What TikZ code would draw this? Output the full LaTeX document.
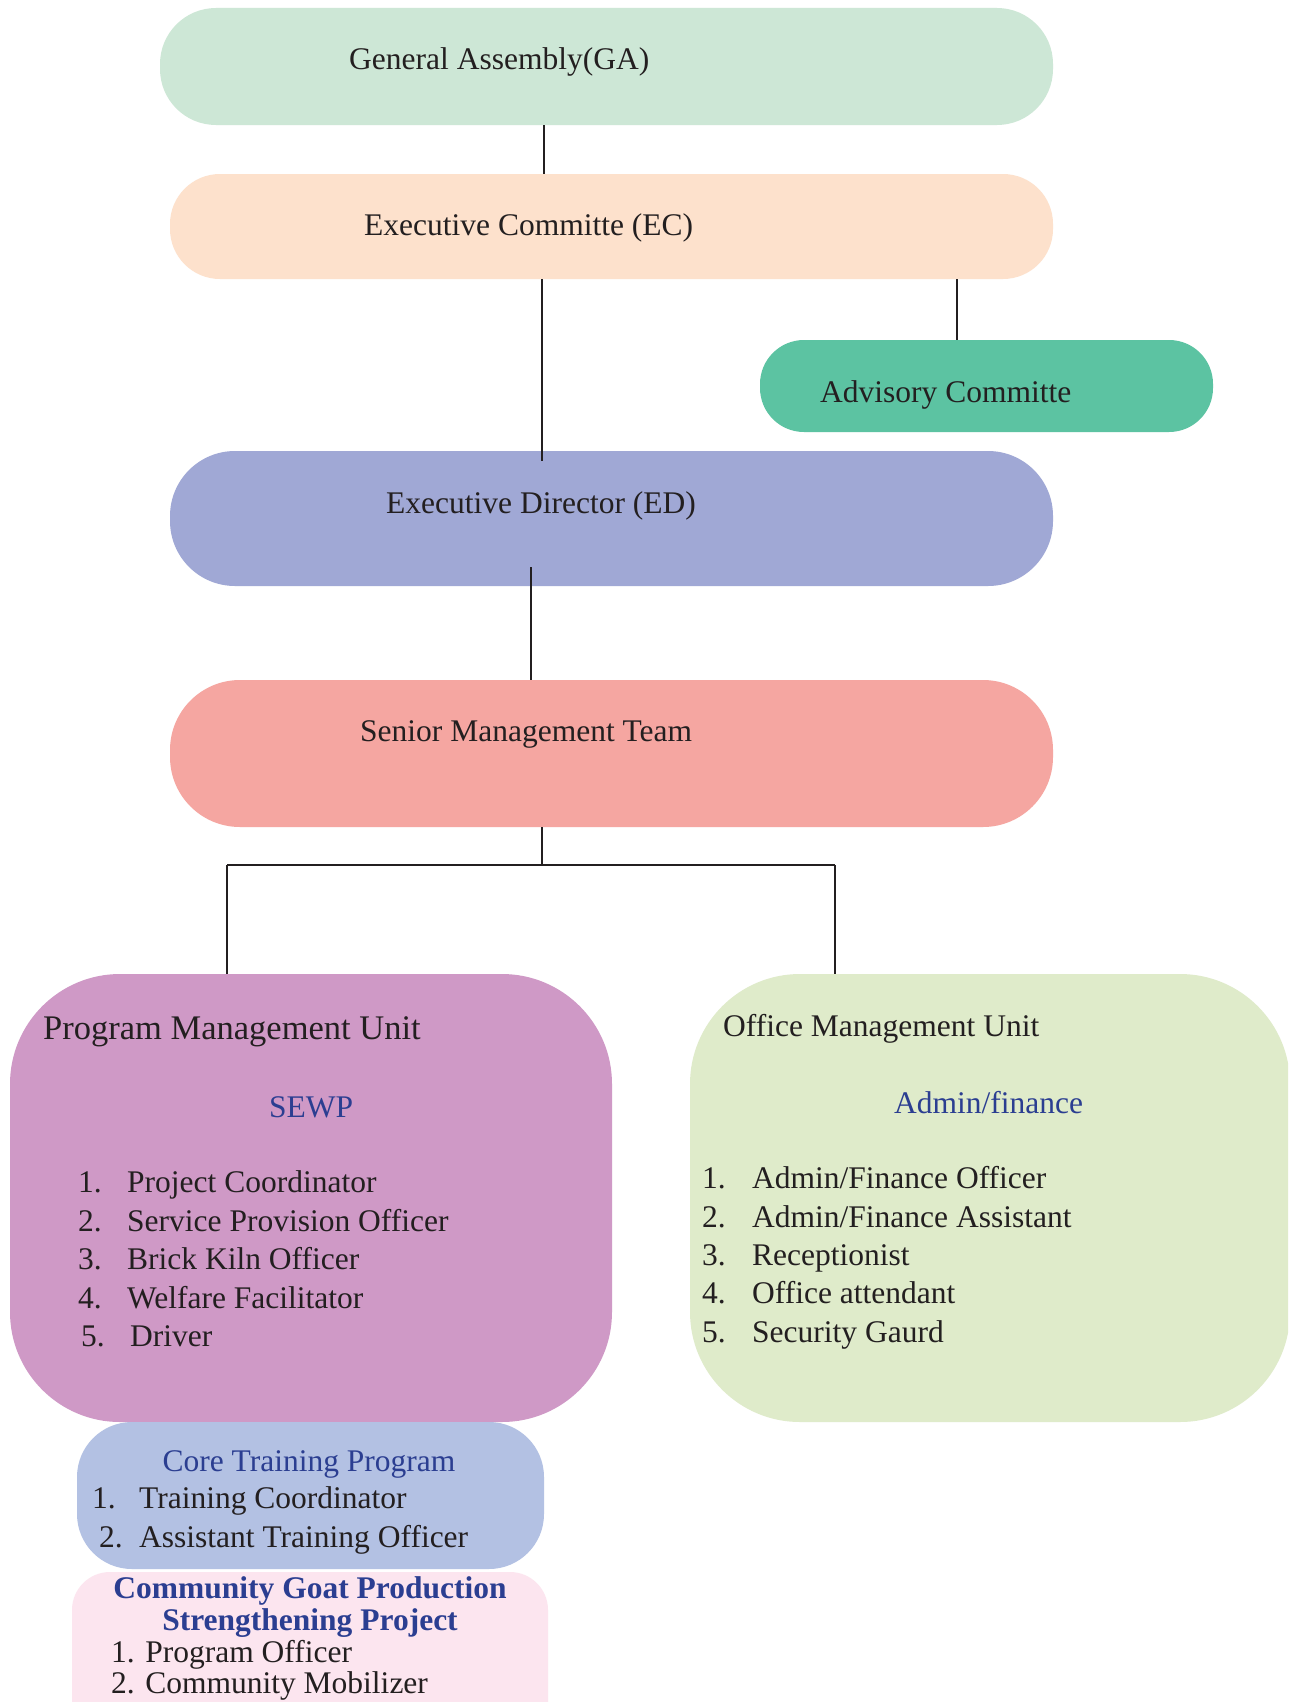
\documentclass[tikz,border=0pt]{standalone}
\usepackage{fontspec}
\setmainfont{Liberation Serif}
\usetikzlibrary{calc}
\definecolor{gaC}{HTML}{CDE7D6}
\definecolor{ecC}{HTML}{FDE1CC}
\definecolor{adC}{HTML}{5CC3A2}
\definecolor{edC}{HTML}{A0A8D5}
\definecolor{smC}{HTML}{F5A6A1}
\definecolor{pmC}{HTML}{CF99C6}
\definecolor{omC}{HTML}{DFEBCA}
\definecolor{ctC}{HTML}{B3C1E3}
\definecolor{cgC}{HTML}{FCE5EF}
\definecolor{blueT}{HTML}{2B3E91}
\definecolor{ink}{HTML}{231F20}
\begin{document}
\begin{tikzpicture}[x=1pt,y=-1pt,
  box/.style={rectangle, inner sep=0pt, outer sep=0pt, draw=none},
  txt/.style={anchor=base west, inner sep=0pt, text=ink, font=\fontsize{31.5}{36}\selectfont},
  btxt/.style={txt, text=blueT},
  ctxt/.style={anchor=base, inner sep=0pt, text=blueT, font=\fontsize{31.5}{36}\selectfont},
  conn/.style={draw=ink, line width=1.8pt},
  bus/.style={draw=ink, line width=2.6pt}]
\useasboundingbox (0,0) rectangle (1288,1702);
\clip (0,0) rectangle (1288,1702);
\fill[white] (0,0) rectangle (1288,1702);

% boxes
\node[box, fill=gaC, rounded corners=56pt, minimum width=893pt, minimum height=117pt] (ga) at (606.5,66.5) {};
\node[box, fill=ecC, rounded corners=50pt, minimum width=883pt, minimum height=105pt] (ec) at (611.5,226.5) {};
\node[box, fill=adC, rounded corners=44pt, minimum width=453pt, minimum height=92pt] (ad) at (986.5,386) {};
\node[box, fill=edC, rounded corners=65pt, minimum width=883pt, minimum height=135pt] (ed) at (611.5,518.5) {};
\node[box, fill=smC, rounded corners=70pt, minimum width=883pt, minimum height=147pt] (sm) at (611.5,753.5) {};
\node[box, fill=pmC, rounded corners=110pt, minimum width=602pt, minimum height=448pt] (pm) at (311,1198) {};
\node[box, fill=omC, rounded corners=110pt, minimum width=600pt, minimum height=448pt] (om) at (990,1198) {};
\node[box, fill=ctC, rounded corners=55pt, minimum width=467pt, minimum height=147pt] (ct) at (310.5,1495.5) {};
\node[box, fill=cgC, rounded corners=38pt, minimum width=476pt, minimum height=188pt] (cg) at (310,1666) {};

% connectors
\coordinate (xga) at (544,0);
\coordinate (xec) at (542,0);
\coordinate (xad) at (957,0);
\coordinate (xed) at (531,0);
\coordinate (xsm) at (542,0);
\coordinate (xpm) at (227,0);
\coordinate (xom) at (835,0);
\coordinate (busy) at (0,865);
\draw[conn] (ga.south -| xga) -- (ec.north -| xga);
\draw[conn] (ec.south -| xec) -- ($(ed.north -| xec)+(0,10)$);
\draw[conn] (ec.south -| xad) -- (ad.north -| xad);
\draw[conn] ($(ed.south -| xed)+(0,-19)$) -- (sm.north -| xed);
\draw[conn] (sm.south -| xsm) -- (busy -| xsm);
\draw[bus] (busy -| xpm) -- (busy -| xom);
\draw[conn] (busy -| xpm) -- (pm.north -| xpm);
\draw[conn] (busy -| xom) -- (om.north -| xom);

% texts
\node[txt] (tga) at (349,70) {General Assembly(GA)};
\node[txt] (tec) at (364,235) {Executive Committe (EC)};
\node[txt] (tad) at (820,402) {Advisory Committe};
\node[txt] (ted) at (386,513) {Executive Director (ED)};
\node[txt] (tsm) at (360,741) {Senior Management Team};

\node[txt, font=\fontsize{34.5}{40}\selectfont] (tpm) at (43,1039) {Program Management Unit};
\node[btxt] (tsewp) at (269,1117) {SEWP};
\node[txt] (pn1) at (78,1192) {1.};
\node[txt] (pt1) at (127,1192) {Project Coordinator};
\node[txt] (pn2) at (78,1231) {2.};
\node[txt] (pt2) at (127,1231) {Service Provision Officer};
\node[txt] (pn3) at (78,1269) {3.};
\node[txt] (pt3) at (127,1269) {Brick Kiln Officer};
\node[txt] (pn4) at (78,1308) {4.};
\node[txt] (pt4) at (127,1308) {Welfare Facilitator};
\node[txt] (pn5) at (81,1346) {5.};
\node[txt] (pt5) at (130,1346) {Driver};

\node[txt] (tom) at (723,1036) {Office Management Unit};
\node[btxt] (tadm) at (894,1113) {Admin/finance};
\node[txt] (on1) at (702,1188) {1.};
\node[txt] (ot1) at (752,1188) {Admin/Finance Officer};
\node[txt] (on2) at (702,1227) {2.};
\node[txt] (ot2) at (752,1227) {Admin/Finance Assistant};
\node[txt] (on3) at (702,1265) {3.};
\node[txt] (ot3) at (752,1265) {Receptionist};
\node[txt] (on4) at (702,1303) {4.};
\node[txt] (ot4) at (752,1303) {Office attendant};
\node[txt] (on5) at (702,1342) {5.};
\node[txt] (ot5) at (752,1342) {Security Gaurd};

\node[ctxt] (tct) at (309,1471) {Core Training Program};
\node[txt] (cn1) at (92,1508) {1.};
\node[txt] (ct1) at (139,1508) {Training Coordinator};
\node[txt] (cn2) at (99,1547) {2.};
\node[txt] (ct2) at (139,1547) {Assistant Training Officer};

\node[ctxt, font=\bfseries\fontsize{31.5}{36}\selectfont] (tcg1) at (310,1598) {Community Goat Production};
\node[ctxt, font=\bfseries\fontsize{31.5}{36}\selectfont] (tcg2) at (310,1630) {Strengthening Project};
\node[txt] (cg1) at (111,1662) {1. Program Officer};
\node[txt] (cg2) at (111,1693) {2. Community Mobilizer};
\end{tikzpicture}
\end{document}
